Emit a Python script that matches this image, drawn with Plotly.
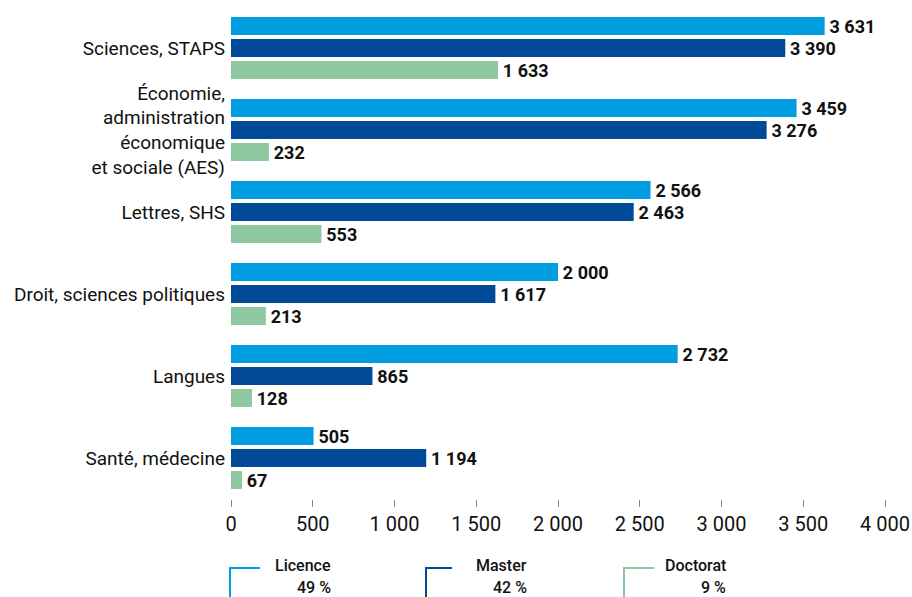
import plotly.graph_objects as go

categories = ["Sciences, STAPS",
              "Économie,<br>administration<br>économique<br>et sociale (AES)",
              "Lettres, SHS",
              "Droit, sciences politiques",
              "Langues",
              "Santé, médecine"]
licence = [3631, 3459, 2566, 2000, 2732, 505]
master = [3390, 3276, 2463, 1617, 865, 1194]
doctorat = [1633, 232, 553, 213, 128, 67]
series_names = ["Licence", "Master", "Doctorat"]
series_shares = ["49 %", "42 %", "9 %"]
colors = ["#009EE0", "#004A98", "#8DC8A1"]
x_ticks = [0, 500, 1000, 1500, 2000, 2500, 3000, 3500, 4000]

def fmt(v):
    return f"{v:,}".replace(",", " ")

W, H = 912, 597
L, R, T, B = 231, 27, 7, 98
pw, ph = W - L - R, H - T - B

fig = go.Figure()
for name, vals, col in zip(series_names, [licence, master, doctorat], colors):
    fig.add_trace(go.Bar(
        y=categories, x=vals, orientation="h", name=name,
        marker=dict(color=col, line=dict(width=0)),
        text=["\u200a" + fmt(v) for v in vals], textposition="outside",
        constraintext="none",
        textfont=dict(family="Roboto", size=18, color="#111111", weight="bold"),
        cliponaxis=False, showlegend=False, hoverinfo="skip",
    ))

def px2paper_x(px):
    return (px - L) / pw

def px2paper_y(py):
    return (H - B - py) / ph

shapes = []
annotations = []
legend_pos = [(230, 260, 333), (426, 452, 529), (624, 654, 728)]
for (x0, x1, xt), name, share, col in zip(legend_pos, series_names, series_shares, colors):
    path = (f"M {px2paper_x(x0)},{px2paper_y(600)} L {px2paper_x(x0)},{px2paper_y(568)} "
            f"L {px2paper_x(x1)},{px2paper_y(568)}")
    shapes.append(dict(type="path", xref="paper", yref="paper", path=path,
                       line=dict(color=col, width=2)))
    for txt, yc in [(name, 565.5), (share, 587)]:
        annotations.append(dict(
            xref="paper", yref="paper", x=px2paper_x(xt), y=px2paper_y(yc),
            xanchor="right", yanchor="middle", align="right", showarrow=False,
            text=txt,
            font=dict(family="Roboto", size=16, color="#111111", weight=500),
        ))

fig.update_layout(
    width=W, height=H,
    margin=dict(l=L, r=R, t=T, b=B, autoexpand=False),
    paper_bgcolor="white", plot_bgcolor="white",
    barmode="group", bargap=0.195, bargroupgap=0.18,
    separators=", ",
    font=dict(family="Roboto", size=18, color="#111111"),
    shapes=shapes, annotations=annotations,
    xaxis=dict(range=[0, 4000], tickvals=x_ticks, ticktext=[fmt(v) for v in x_ticks],
               showgrid=False, zeroline=False, showline=False,
               ticks="outside", ticklen=7, tickwidth=1, tickcolor="#888888",
               tickfont=dict(family="Roboto", size=20, color="#111111")),
    yaxis=dict(autorange="reversed", showgrid=False, zeroline=False, showline=False,
               ticks="", ticklabelstandoff=5,
               tickfont=dict(family="Roboto", size=19, color="#111111")),
)

fig.write_html("out.html", config={"displayModeBar": False},
               post_script="document.body.style.margin='0';document.body.style.overflow='hidden';")
